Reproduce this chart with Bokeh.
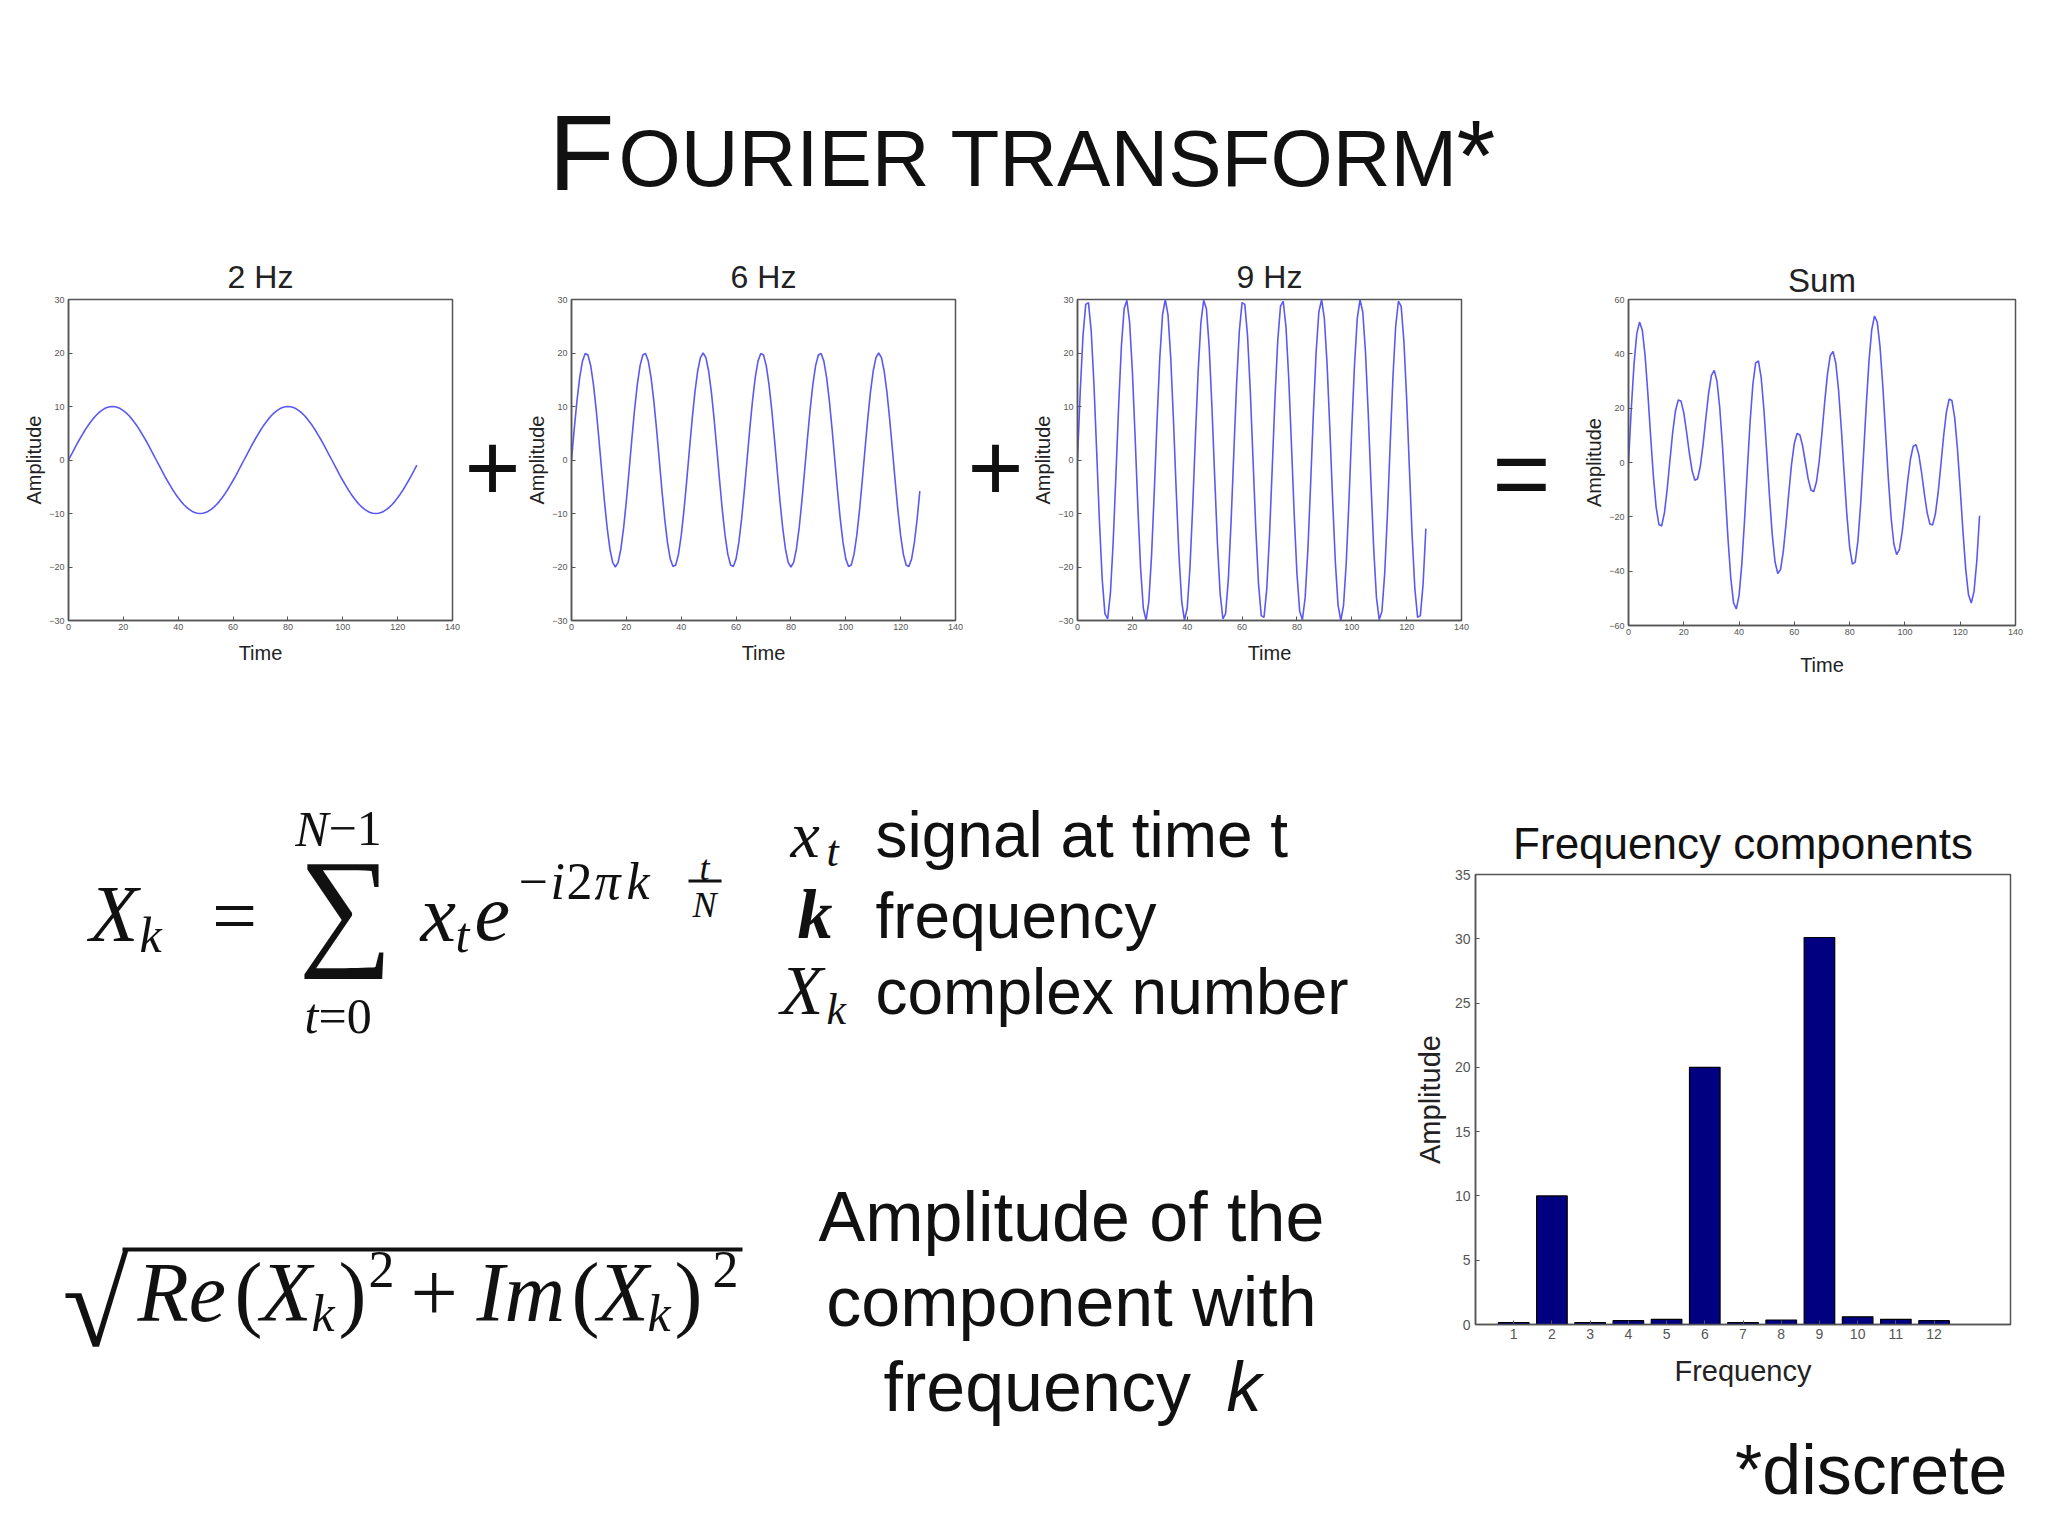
from bokeh.plotting import figure
from bokeh.layouts import row, column
from bokeh.models import Range1d, FixedTicker, Label, BoxAnnotation
from bokeh.embed import file_html
from bokeh.resources import INLINE

SANS = "Liberation Sans"
SERIF = "Liberation Serif"
INK = "#111111"
WAVE = "#5a5af2"
AXIS = "#555555"
BAR = "#000080"

# ---------------- data ----------------
time = list(range(128))

hz2 = [0.0, 0.98, 1.95, 2.9, 3.83, 4.71, 5.56, 6.34, 7.07, 7.73, 8.31, 8.82, 9.24, 9.57, 9.81, 9.95,
       10.0, 9.95, 9.81, 9.57, 9.24, 8.82, 8.31, 7.73, 7.07, 6.34, 5.56, 4.71, 3.83, 2.9, 1.95, 0.98,
       0.0, -0.98, -1.95, -2.9, -3.83, -4.71, -5.56, -6.34, -7.07, -7.73, -8.31, -8.82, -9.24, -9.57, -9.81, -9.95,
       -10.0, -9.95, -9.81, -9.57, -9.24, -8.82, -8.31, -7.73, -7.07, -6.34, -5.56, -4.71, -3.83, -2.9, -1.95, -0.98,
       0.0, 0.98, 1.95, 2.9, 3.83, 4.71, 5.56, 6.34, 7.07, 7.73, 8.31, 8.82, 9.24, 9.57, 9.81, 9.95,
       10.0, 9.95, 9.81, 9.57, 9.24, 8.82, 8.31, 7.73, 7.07, 6.34, 5.56, 4.71, 3.83, 2.9, 1.95, 0.98,
       0.0, -0.98, -1.95, -2.9, -3.83, -4.71, -5.56, -6.34, -7.07, -7.73, -8.31, -8.82, -9.24, -9.57, -9.81, -9.95,
       -10.0, -9.95, -9.81, -9.57, -9.24, -8.82, -8.31, -7.73, -7.07, -6.34, -5.56, -4.71, -3.83, -2.9, -1.95, -0.98]

hz6 = [0.0, 5.81, 11.11, 15.46, 18.48, 19.9, 19.62, 17.64, 14.14, 9.43, 3.9,
       -1.96, -7.65, -12.69, -16.63, -19.14, -20.0, -19.14, -16.63, -12.69, -7.65, -1.96,
       3.9, 9.43, 14.14, 17.64, 19.62, 19.9, 18.48, 15.46, 11.11, 5.81,
       0.0, -5.81, -11.11, -15.46, -18.48, -19.9, -19.62, -17.64, -14.14, -9.43, -3.9,
       1.96, 7.65, 12.69, 16.63, 19.14, 20.0, 19.14, 16.63, 12.69, 7.65, 1.96,
       -3.9, -9.43, -14.14, -17.64, -19.62, -19.9, -18.48, -15.46, -11.11, -5.81,
       0.0, 5.81, 11.11, 15.46, 18.48, 19.9, 19.62, 17.64, 14.14, 9.43, 3.9,
       -1.96, -7.65, -12.69, -16.63, -19.14, -20.0, -19.14, -16.63, -12.69, -7.65, -1.96,
       3.9, 9.43, 14.14, 17.64, 19.62, 19.9, 18.48, 15.46, 11.11, 5.81,
       0.0, -5.81, -11.11, -15.46, -18.48, -19.9, -19.62, -17.64, -14.14, -9.43, -3.9,
       1.96, 7.65, 12.69, 16.63, 19.14, 20.0, 19.14, 16.63, 12.69, 7.65, 1.96,
       -3.9, -9.43, -14.14, -17.64, -19.62, -19.9, -18.48, -15.46, -11.11, -5.81]

hz9 = [0.0, 12.83, 23.19, 29.1, 29.42, 24.1, 14.14, 1.47,
       -11.48, -22.23, -28.71, -29.68, -24.94, -15.42, -2.94,
       10.11, 21.21, 28.25, 29.86, 25.73, 16.67, 4.4,
       -8.71, -20.15, -27.72, -29.96, -26.46, -17.87, -5.85,
       7.29, 19.03, 27.12, 30.0, 27.12, 19.03, 7.29,
       -5.85, -17.87, -26.46, -29.96, -27.72, -20.15, -8.71,
       4.4, 16.67, 25.73, 29.86, 28.25, 21.21, 10.11,
       -2.94, -15.42, -24.94, -29.68, -28.71, -22.23, -11.48,
       1.47, 14.14, 24.1, 29.42, 29.1, 23.19, 12.83,
       0.0, -12.83, -23.19, -29.1, -29.42, -24.1, -14.14, -1.47,
       11.48, 22.23, 28.71, 29.68, 24.94, 15.42, 2.94,
       -10.11, -21.21, -28.25, -29.86, -25.73, -16.67, -4.4,
       8.71, 20.15, 27.72, 29.96, 26.46, 17.87, 5.85,
       -7.29, -19.03, -27.12, -30.0, -27.12, -19.03, -7.29,
       5.85, 17.87, 26.46, 29.96, 27.72, 20.15, 8.71,
       -4.4, -16.67, -25.73, -29.86, -28.25, -21.21, -10.11,
       2.94, 15.42, 24.94, 29.68, 28.71, 22.23, 11.48,
       -1.47, -14.14, -24.1, -29.42, -29.1, -23.19, -12.83]

total = [round(a + b + c, 2) for a, b, c in zip(hz2, hz6, hz9)]

wave_titles = ["2 Hz", "6 Hz", "9 Hz", "Sum"]
time_ticks = [0, 20, 40, 60, 80, 100, 120, 140]
amp_ticks_small = [-30, -20, -10, 0, 10, 20, 30]
amp_ticks_sum = [-60, -40, -20, 0, 20, 40, 60]

freq = [1, 2, 3, 4, 5, 6, 7, 8, 9, 10, 11, 12]
freq_amp = [0.15, 10.0, 0.15, 0.3, 0.4, 20.0, 0.15, 0.35, 30.1, 0.6, 0.4, 0.3]
amp_ticks_bar = [0, 5, 10, 15, 20, 25, 30, 35]


# ---------------- helpers ----------------
def style_axis(ax, ticks, tick_px, label, label_px, label_standoff, tick_standoff):
    ax.ticker = FixedTicker(ticks=ticks)
    ax.axis_label = label
    ax.axis_label_text_font = SANS
    ax.axis_label_text_font_style = "normal"
    ax.axis_label_text_font_size = f"{label_px}px"
    ax.axis_label_text_color = "#222222"
    ax.axis_label_standoff = label_standoff
    ax.major_label_text_font = SANS
    ax.major_label_text_font_size = f"{tick_px}px"
    ax.major_label_text_color = "#555555"
    ax.major_label_standoff = tick_standoff
    ax.major_tick_in = 4
    ax.major_tick_out = 0
    ax.minor_tick_line_color = None
    ax.axis_line_color = AXIS
    ax.axis_line_width = 1.5
    ax.major_tick_line_color = AXIS


def wave_plot(title, y, ylim, yticks, fw, fh, bl, br, bt, bb, title_px, title_off, xlab_off):
    p = figure(frame_width=fw, frame_height=fh, min_border_left=bl, min_border_right=br,
               min_border_top=bt, min_border_bottom=bb,
               x_range=Range1d(0, 140), y_range=Range1d(-ylim, ylim),
               output_backend="svg", toolbar_location=None, title=title)
    p.line(time, y, line_color=WAVE, line_width=1.6)
    p.grid.visible = False
    p.outline_line_color = AXIS
    p.outline_line_width = 1.5
    p.background_fill_color = "white"
    p.border_fill_color = "white"
    p.title.align = "center"
    p.title.text_font = SANS
    p.title.text_font_style = "normal"
    p.title.text_font_size = f"{title_px}px"
    p.title.text_color = "#222222"
    p.title.standoff = title_off
    style_axis(p.xaxis[0], time_ticks, 9, "Time", 20, xlab_off, 3)
    style_axis(p.yaxis[0], yticks, 9, "Amplitude", 20, 1, 4)
    return p


def canvas(w, h, x0, x1, y_top, y_bottom):
    p = figure(width=w, height=h, x_range=Range1d(x0, x1), y_range=Range1d(y_bottom, y_top),
               output_backend="svg", toolbar_location=None, min_border=0,
               x_axis_type=None, y_axis_type=None, title=None)
    p.outline_line_color = None
    p.background_fill_color = "white"
    p.border_fill_color = "white"
    return p


def put(p, x, y, s, size, font=SANS, style="normal", align="left", color=INK):
    # y is the wanted baseline (page pixels, downward); lift to compensate label placement
    p.add_layout(Label(x=x, y=y - 0.2 * size, text=s, text_font=font, text_font_style=style,
                       text_font_size=f"{size}px", text_align=align,
                       text_baseline="alphabetic", text_color=color))


# ---------------- header ----------------
head = canvas(2032, 237, 0, 2032, 8, 245)
put(head, 614, 182, "F", 108, align="right")
put(head, 618, 182, "OURIER TRANSFORM", 80)
put(head, 1456, 182, "*", 100)

# ---------------- waves row ----------------
p1 = wave_plot(wave_titles[0], hz2, 30, amp_ticks_small, 384, 321, 68, 8, 55, 79, 32, 10, 9)
p2 = wave_plot(wave_titles[1], hz6, 30, amp_ticks_small, 384, 321, 51, 8, 55, 79, 32, 10, 9)
p3 = wave_plot(wave_titles[2], hz9, 30, amp_ticks_small, 384, 321, 51, 19, 55, 79, 32, 10, 9)
p4 = wave_plot(wave_titles[3], total, 60, amp_ticks_sum, 387, 326, 63, 17, 62, 67, 33, 2, 16)

plus1 = canvas(60, 455, 460, 520, 245, 700)
put(plus1, 492, 508, "+", 96, align="center")
plus2 = canvas(63, 455, 963, 1026, 245, 700)
put(plus2, 995, 508, "+", 96, align="center")
eq = canvas(85, 455, 1480, 1565, 245, 700)
put(eq, 1521, 516, "=", 100, align="center")

wave_row = row(p1, plus1, p2, plus2, p3, eq, p4)

# ---------------- formula panel ----------------
fm = canvas(1387, 828, 0, 1387, 700, 1528)
# X_k = sum_{t=0}^{N-1} x_t e^{-i 2 pi k t/N}
put(fm, 89, 937, "X", 80, SERIF, "italic")
put(fm, 139, 952, "k", 50, SERIF, "italic")
put(fm, 234, 939, "=", 80, SERIF, align="center")
put(fm, 345, 940, "\u2211", 132, SERIF, align="center")
put(fm, 328, 846, "N", 50, SERIF, "italic", align="right")
put(fm, 328, 846, "\u22121", 50, SERIF)
put(fm, 318, 1033, "t", 50, SERIF, "italic", align="right")
put(fm, 318, 1033, "=0", 50, SERIF)
put(fm, 420, 937, "x", 80, SERIF, "italic")
put(fm, 455, 952, "t", 50, SERIF, "italic")
put(fm, 474, 937, "e", 80, SERIF, "italic")
put(fm, 518, 899, "\u2212", 52, SERIF)
put(fm, 550, 899, "i", 52, SERIF, "italic")
put(fm, 566, 899, "2", 52, SERIF)
put(fm, 594, 899, "\u03c0", 52, SERIF, "italic")
put(fm, 626, 899, "k", 52, SERIF, "italic")
put(fm, 704, 883, "t", 36, SERIF, "italic", align="center")
fm.add_layout(BoxAnnotation(left=688, right=721, top=887, bottom=890,
                            fill_color=INK, fill_alpha=1, line_color=None))
put(fm, 704, 920, "N", 36, SERIF, "italic", align="center")

# symbol legend
put(fm, 790, 855, "x", 66, SERIF, "italic")
put(fm, 826, 868, "t", 44, SERIF, "italic")
put(fm, 875, 855, "signal at time t", 64)
put(fm, 797, 936, "k", 70, SERIF, "bold italic")
put(fm, 875, 936, "frequency", 64)
put(fm, 780, 1012, "X", 70, SERIF, "italic")
put(fm, 826, 1026, "k", 44, SERIF, "italic")
put(fm, 875, 1012, "complex number", 64)

# sqrt(Re(X_k)^2 + Im(X_k)^2)
put(fm, 62, 1337, "\u221a", 120, SERIF)
fm.add_layout(BoxAnnotation(left=122, right=742, top=1255, bottom=1259,
                            fill_color=INK, fill_alpha=1, line_color=None))
put(fm, 137, 1317, "Re", 84, SERIF, "italic")
put(fm, 234, 1317, "(", 84, SERIF)
put(fm, 260, 1317, "X", 84, SERIF, "italic")
put(fm, 311, 1331, "k", 52, SERIF, "italic")
put(fm, 338, 1317, ")", 84, SERIF)
put(fm, 368, 1287, "2", 52, SERIF)
put(fm, 410, 1317, "+", 84, SERIF)
put(fm, 476, 1317, "Im", 84, SERIF, "italic")
put(fm, 571, 1317, "(", 84, SERIF)
put(fm, 597, 1317, "X", 84, SERIF, "italic")
put(fm, 647, 1331, "k", 52, SERIF, "italic")
put(fm, 674, 1317, ")", 84, SERIF)
put(fm, 712, 1287, "2", 52, SERIF)

# amplitude description
put(fm, 1071, 1238, "Amplitude of the", 70, align="center")
put(fm, 1071, 1323, "component with", 70, align="center")
put(fm, 883, 1408, "frequency", 70)
put(fm, 1226, 1408, "k", 70, style="italic")

# ---------------- bar chart ----------------
bar = figure(frame_width=535, frame_height=450, min_border_left=88, min_border_right=22,
             min_border_top=182, min_border_bottom=88,
             x_range=Range1d(0, 14), y_range=Range1d(0, 35),
             output_backend="svg", toolbar_location=None, title="Frequency components")
bar.vbar(x=freq, top=freq_amp, width=0.8, fill_color=BAR, line_color="#000000", line_width=1.2)
bar.grid.visible = False
bar.outline_line_color = AXIS
bar.outline_line_width = 1.5
bar.background_fill_color = "white"
bar.border_fill_color = "white"
bar.title.align = "center"
bar.title.text_font = SANS
bar.title.text_font_style = "normal"
bar.title.text_font_size = "44px"
bar.title.text_color = INK
bar.title.standoff = 14
style_axis(bar.xaxis[0], freq, 14, "Frequency", 29, 13, 4)
style_axis(bar.yaxis[0], amp_ticks_bar, 14, "Amplitude", 29, 6, 5)

disc = canvas(645, 108, 1387, 2032, 1420, 1528)
put(disc, 1700, 1491, "*discrete", 70)

bottom = row(fm, column(bar, disc))

page = column(head, wave_row, bottom)
page.styles = {"background-color": "white"}

open("out.html", "w").write(file_html(page, INLINE, title="Fourier transform"))
